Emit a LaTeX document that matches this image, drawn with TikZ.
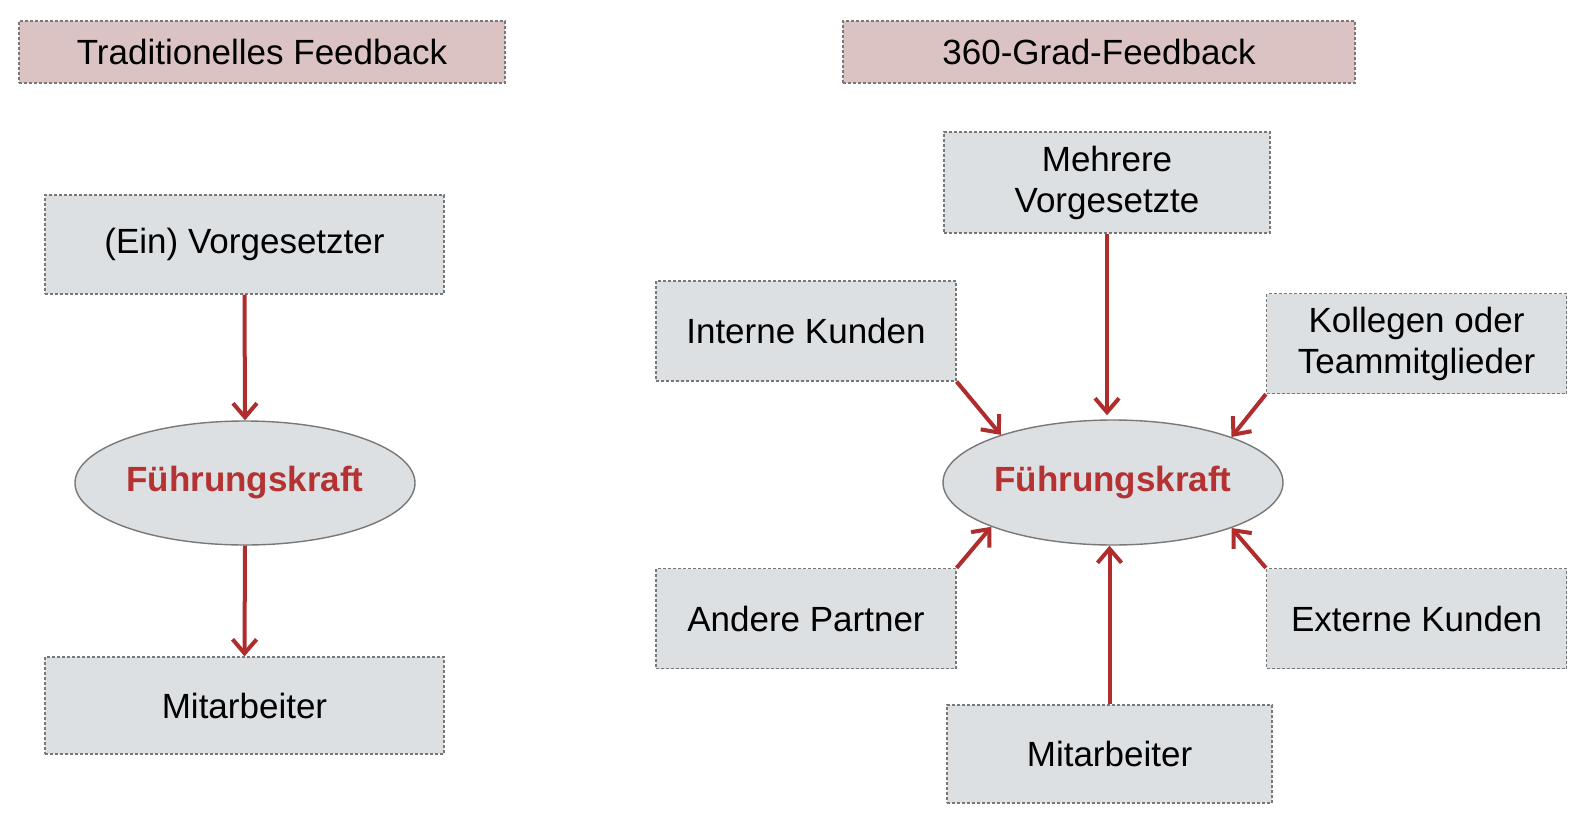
\documentclass[tikz,border=0pt]{standalone}
\usepackage{fontspec}
\setmainfont{Liberation Sans}
\usetikzlibrary{shapes.geometric,arrows.meta}
\definecolor{boxfill}{RGB}{220,224,227}
\definecolor{titlefill}{RGB}{219,195,195}
\definecolor{bordergray}{RGB}{120,120,120}
\definecolor{arrowred}{RGB}{175,45,45}
\definecolor{textred}{RGB}{180,50,50}
\tikzset{
  box/.style={draw=bordergray, dash pattern=on 1.5pt off 1pt, line width=0.6pt, fill=boxfill,
    inner sep=0pt, align=center, font=\fontsize{17.5}{20.5}\selectfont},
  titlebox/.style={box, fill=titlefill},
  oval/.style={ellipse, draw=bordergray, line width=0.7pt, fill=boxfill, inner sep=0pt,
    font=\fontsize{17.5}{20.5}\selectfont\bfseries, text=textred},
  arr/.style={draw=arrowred, line width=2pt, -{Straight Barb[length=7pt,width=12pt,line width=2pt]}}
}
\begin{document}
\begin{tikzpicture}[x=0.5pt,y=-0.5pt]
\useasboundingbox[fill=white] (0,0) rectangle (1573,813);
% titles
\node[titlebox, minimum width=243pt, minimum height=31pt] (t1) at (262,52) {Traditionelles Feedback};
\node[titlebox, minimum width=256pt, minimum height=31pt] (t2) at (1099,52) {360-Grad-Feedback};
% left
\node[box, minimum width=199.5pt, minimum height=49.5pt] (vorg) at (244.5,244.5) {(Ein) Vorgesetzter};
\node[oval, minimum width=170pt, minimum height=62pt] (fk1) at (245,483) {Führungskraft};
\node[box, minimum width=199.5pt, minimum height=48.5pt] (mit1) at (244.5,705.5) {Mitarbeiter};
\draw[arr] (vorg.south) -- (fk1.north);
\draw[arr] (fk1.south) -- (mit1.north);
% right
\node[box, minimum width=163pt, minimum height=50.5pt] (mehr) at (1107,182.5) {Mehrere\\Vorgesetzte};
\node[box, minimum width=150pt, minimum height=50pt] (intk) at (806,331) {Interne Kunden};
\node[box, minimum width=150pt, minimum height=50pt] (koll) at (1416.5,343.5) {Kollegen oder\\Teammitglieder};
\node[oval, minimum width=170pt, minimum height=62.5pt] (fk2) at (1113,482.5) {Führungskraft};
\node[box, minimum width=150pt, minimum height=50pt] (andp) at (806,618.5) {Andere Partner};
\node[box, minimum width=150pt, minimum height=50pt] (extk) at (1416.5,618.5) {Externe Kunden};
\node[box, minimum width=162.5pt, minimum height=49pt] (mit2) at (1109.5,754) {Mitarbeiter};
\coordinate (mtop) at (mehr.south |- fk2.north);
\coordinate (mbot) at (mit2.north |- fk2.south);
\draw[arr, shorten >=2pt] (mehr.south) -- (mtop);
\draw[arr] (mit2.north) -- (mbot);
\draw[arr] (intk.south east) -- (fk2.157);
\draw[arr] (koll.south west) -- (fk2.21.5);
\draw[arr] (andp.north east) -- (fk2.200.5);
\draw[arr] (extk.north west) -- (fk2.339.5);
\end{tikzpicture}
\end{document}
